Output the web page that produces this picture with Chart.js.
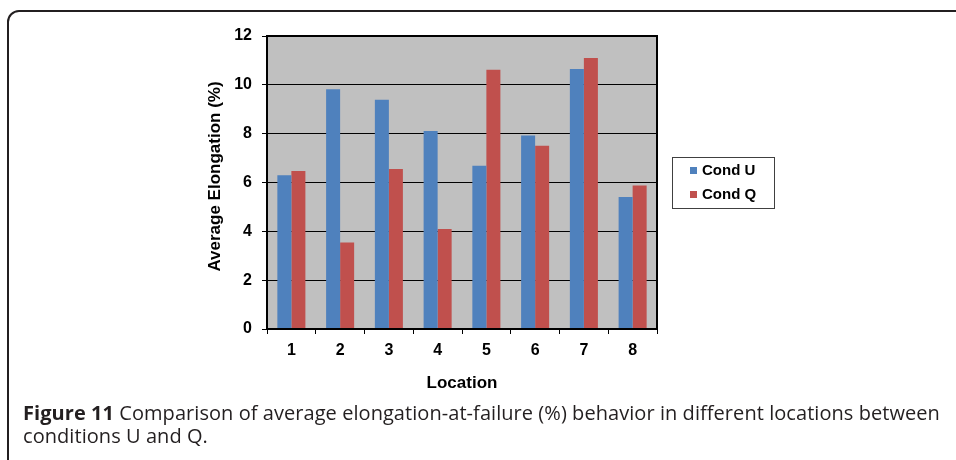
<!DOCTYPE html>
<html>
<head>
<meta charset="utf-8">
<title>Figure 11</title>
<script src="https://cdn.jsdelivr.net/npm/chart.js@4.4.0/dist/chart.umd.min.js"></script>
<style>
  body { margin: 0; background: #fff; }
  #wrap { position: relative; width: 956px; height: 460px; overflow: hidden; }
  #frame {
    position: absolute; left: 7px; top: 10px; width: 990px; height: 520px;
    border: 2px solid #231f20; border-radius: 12px; box-sizing: border-box;
  }
  #chart { position: absolute; left: 0; top: 0; }
  #caption {
    position: absolute; left: 23px; top: 401px;
    font-family: "Open Sans", sans-serif; font-size: 20px; line-height: 23px;
    color: #231f20; white-space: nowrap;
  }
  #caption b { font-weight: 700; }
</style>
</head>
<body>
<div id="wrap">
  <div id="frame"></div>
  <canvas id="chart" width="956" height="460"></canvas>
  <div id="caption"><span id="line1"><b>Figure 11</b> Comparison of average elongation-at-failure (%) behavior in different locations between</span><br>conditions U and Q.</div>
</div>
<script>
// values
const locations = ["1", "2", "3", "4", "5", "6", "7", "8"];
const condU = [6.3, 9.82, 9.39, 8.11, 6.69, 7.93, 10.65, 5.41];
const condQ = [6.47, 3.54, 6.55, 4.1, 10.62, 7.51, 11.1, 5.88];
const yMin = 0, yMax = 12, yStep = 2;

const seriesNames = ["Cond U", "Cond Q"];
const seriesColors = ["#4f81bd", "#c0504d"];
const yTitle = "Average Elongation (%)";

Chart.defaults.font.family = '"Liberation Sans", Arial, sans-serif';
Chart.defaults.color = "#000";

// nudge the caption's first line to the width it has in the figure
(function () {
  var cap = document.getElementById("caption");
  var line = document.getElementById("line1");
  var chars = line.textContent.length;
  var extra = 917 - line.getBoundingClientRect().width;
  cap.style.letterSpacing = (extra / chars).toFixed(3) + "px";
})();

// gray plot area + black frame
var plotFrame = {
  id: "plotFrame",
  beforeDraw: function (chart) {
    var a = chart.chartArea, ctx = chart.ctx;
    ctx.save();
    ctx.fillStyle = "#c0c0c0";
    ctx.fillRect(a.left, a.top, a.right - a.left, a.bottom - a.top);
    ctx.restore();
  },
  afterDatasetsDraw: function (chart) {
    var a = chart.chartArea, ctx = chart.ctx;
    ctx.save();
    ctx.strokeStyle = "#000";
    ctx.lineWidth = 2;
    ctx.strokeRect(a.left, a.top, a.right - a.left, a.bottom - a.top);
    ctx.restore();
  }
};

// rotated y title, sitting a little above the plot's middle like the original
var yTitlePlugin = {
  id: "yTitlePlugin",
  afterDraw: function (chart) {
    var a = chart.chartArea, ctx = chart.ctx;
    ctx.save();
    ctx.translate(a.left - 52, (a.top + a.bottom) / 2 - 6);
    ctx.rotate(-Math.PI / 2);
    ctx.font = 'bold 17px "Liberation Sans", Arial, sans-serif';
    ctx.textAlign = "center";
    ctx.textBaseline = "middle";
    ctx.fillStyle = "#000";
    ctx.fillText(yTitle, 0, 0);
    ctx.restore();
  }
};

// boxed legend to the right of the plot
var boxLegend = {
  id: "boxLegend",
  afterDraw: function (chart) {
    var a = chart.chartArea, ctx = chart.ctx;
    var x = a.right + 15, y = 157, w = 102, h = 51;
    ctx.save();
    ctx.strokeStyle = "#404040";
    ctx.lineWidth = 1;
    ctx.strokeRect(x + 0.5, y + 0.5, w, h);
    ctx.font = 'bold 15px "Liberation Sans", Arial, sans-serif';
    ctx.textBaseline = "middle";
    chart.data.datasets.forEach(function (ds, i) {
      var cy = y + 14 + i * 24;
      ctx.fillStyle = ds.backgroundColor;
      ctx.fillRect(x + 18, cy - 4, 7, 7);
      ctx.fillStyle = "#000";
      ctx.fillText(ds.label, x + 30, cy);
    });
    ctx.restore();
  }
};

var chart = new Chart(document.getElementById("chart").getContext("2d"), {
  type: "bar",
  data: {
    labels: locations,
    datasets: [
      { label: seriesNames[0], data: condU, backgroundColor: seriesColors[0] },
      { label: seriesNames[1], data: condQ, backgroundColor: seriesColors[1] }
    ]
  },
  options: {
    responsive: false,
    animation: false,
    events: [],
    layout: { padding: { left: 200, right: 299, top: 36, bottom: 66 } },
    datasets: { bar: { barPercentage: 1, categoryPercentage: 0.575 } },
    plugins: { legend: { display: false }, tooltip: { enabled: false } },
    scales: {
      x: {
        afterFit: function (s) { s.height = 65; },
        grid: { offset: true, drawOnChartArea: false, color: "#000", tickLength: 5 },
        border: { color: "#000", width: 2 },
        ticks: { padding: 7, font: { size: 16, weight: "bold" } },
        title: {
          display: true, text: "Location", padding: { top: 0, bottom: 0 },
          font: { size: 17, weight: "bold" }
        }
      },
      y: {
        min: yMin, max: yMax,
        afterFit: function (s) { s.width = 67; },
        grid: { color: "#000", tickLength: 5 },
        border: { color: "#000", width: 2 },
        ticks: { stepSize: yStep, padding: 10, font: { size: 16, weight: "bold" } }
      }
    }
  },
  plugins: [plotFrame, yTitlePlugin, boxLegend]
});
</script>
</body>
</html>
